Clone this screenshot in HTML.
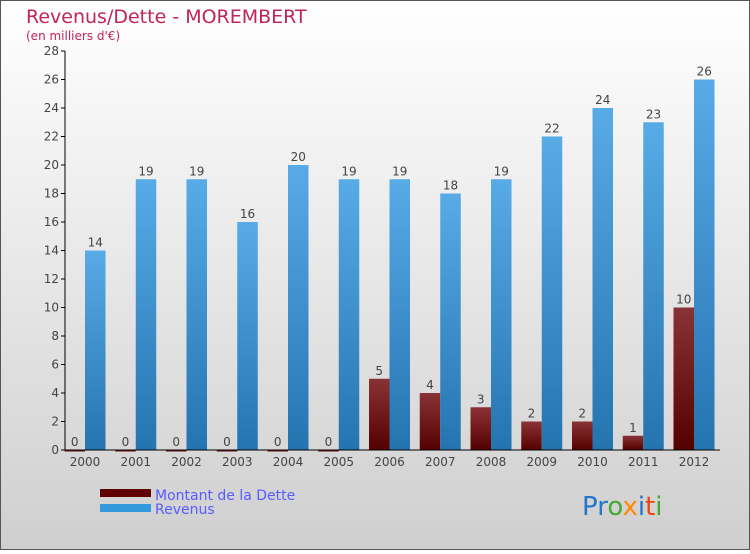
<!DOCTYPE html>
<html><head><meta charset="utf-8"><style>
html,body{margin:0;padding:0}
body{width:750px;height:550px;overflow:hidden;font-family:"DejaVu Sans","Liberation Sans",sans-serif}
</style></head><body>
<svg width="750" height="550" viewBox="0 0 750 550">
<defs>
<linearGradient id="bg" x1="0" y1="0" x2="0" y2="1"><stop offset="0" stop-color="#ffffff"/><stop offset="1" stop-color="#cfcfcf"/></linearGradient>
<linearGradient id="gb" x1="0" y1="0" x2="0" y2="1"><stop offset="0" stop-color="#58abe6"/><stop offset="1" stop-color="#2474b0"/></linearGradient>
<linearGradient id="gr" x1="0" y1="0" x2="0" y2="1"><stop offset="0" stop-color="#8a3336"/><stop offset="1" stop-color="#550000"/></linearGradient>
</defs>
<rect x="0.5" y="0.5" width="749" height="549" fill="url(#bg)" stroke="#555"/>
<text x="26" y="23" font-size="19" fill="#c0245c">Revenus/Dette - MOREMBERT</text>
<text x="26" y="40" font-size="12" fill="#c0245c">(en milliers d'€)</text>
<g id="axes"></g>
<g id="bars"></g>
<g>
<rect x="100" y="489" width="51" height="8" fill="#600000"/>
<text x="155" y="500" font-size="14" fill="#5a5aff">Montant de la Dette</text>
<rect x="100" y="504" width="51" height="8" fill="#3399dd"/>
<text x="155" y="514" font-size="14" fill="#5a5aff">Revenus</text>
</g>
<g font-size="26" font-family="'DejaVu Sans',sans-serif">
<text x="582" y="515"><tspan fill="#2277cc">Pr</tspan><tspan fill="#44aa33">o</tspan><tspan fill="#ff8800">x</tspan><tspan fill="#2277cc">i</tspan><tspan fill="#ee4411">t</tspan><tspan fill="#44aa33">i</tspan></text>
</g>
</svg>
<script>
const years=["2000","2001","2002","2003","2004","2005","2006","2007","2008","2009","2010","2011","2012"];
const dette=[0,0,0,0,0,0,5,4,3,2,2,1,10];
const revenus=[14,19,19,16,20,19,19,18,19,22,24,23,26];
const yTicks=[0,2,4,6,8,10,12,14,16,18,20,22,24,26,28];
const NS="http://www.w3.org/2000/svg";
const y0=450,yTop=51,yMax=28;
function y(v){return y0-(y0-yTop)*v/yMax;}
function xc(i){return 85+i*50.75;}
const bw=20.5;
function mk(tag,attrs,parent){const e=document.createElementNS(NS,tag);for(const k in attrs)e.setAttribute(k,attrs[k]);parent.appendChild(e);return e;}
const ax=document.getElementById('axes'),bars=document.getElementById('bars');
yTicks.forEach(t=>{
 const l=mk('line',{x1:61,x2:65,y1:y(t),y2:y(t),stroke:'#000'},ax);
 
 
 const tx=mk('text',{x:59,y:y(t)+4,'font-size':12,fill:'#444','text-anchor':'end'},ax);
 tx.textContent=t;
 
 
});
const ya=mk('line',{x1:65,x2:65,y1:yTop,y2:y0,stroke:'#000'},ax);


years.forEach((yr,i)=>{
 const c=xc(i);
 const d=mk('rect',{x:c-bw,y:y(dette[i]),width:bw,height:Math.max(y0-y(dette[i]),1.5),fill:'url(#gr)'},bars);
 
 
 const r=mk('rect',{x:c,y:y(revenus[i]),width:bw,height:y0-y(revenus[i]),fill:'url(#gb)'},bars);
 
 
 const dl=mk('text',{x:c-bw/2,y:y(dette[i])-4,'font-size':12,fill:'#444','text-anchor':'middle'},bars);
 dl.textContent=dette[i];
 
 
 const rl=mk('text',{x:c+bw/2,y:y(revenus[i])-4,'font-size':12,fill:'#444','text-anchor':'middle'},bars);
 rl.textContent=revenus[i];
 
 
 const xl=mk('text',{x:c,y:466,'font-size':12,fill:'#444','text-anchor':'middle'},ax);
 xl.textContent=yr;
 
 
});
const xa=mk('line',{x1:65,x2:720,y1:y0,y2:y0,stroke:'#000'},bars);


</script>
</body></html>
